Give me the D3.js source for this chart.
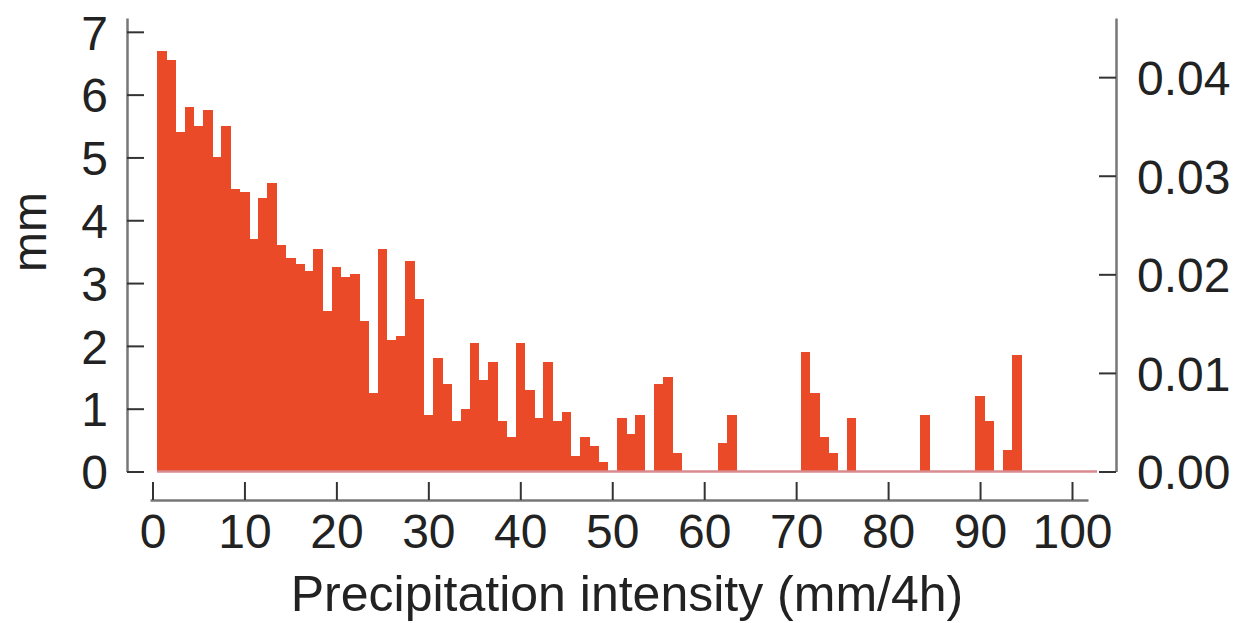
<!DOCTYPE html>
<html>
<head>
<meta charset="utf-8">
<script src="https://cdn.jsdelivr.net/npm/d3@7"></script>
<style>
  html, body { margin: 0; padding: 0; background: #ffffff; }
  svg { display: block; }
  text { font-family: "Liberation Sans", Arial, Helvetica, sans-serif; fill: #222; }
</style>
</head>
<body>
<svg id="chart" width="1234" height="623"></svg>
<script>
// Histogram bins: centre of each 1 mm/4h class
const binCenters = [
  1, 2, 3, 4, 5, 6, 7, 8, 9, 10, 11, 12, 13, 14, 15, 16, 17, 18, 19, 20,
  21, 22, 23, 24, 25, 26, 27, 28, 29, 30, 31, 32, 33, 34, 35, 36, 37, 38, 39, 40,
  41, 42, 43, 44, 45, 46, 47, 48, 49, 50, 51, 52, 53, 54, 55, 56, 57, 58, 59, 60,
  61, 62, 63, 64, 65, 66, 67, 68, 69, 70, 71, 72, 73, 74, 75, 76, 77, 78, 79, 80,
  81, 82, 83, 84, 85, 86, 87, 88, 89, 90, 91, 92, 93, 94
];

// Precipitation amount per class (mm)
const depthMm = [
  6.7, 6.55, 5.4, 5.8, 5.5, 5.75, 5.0, 5.5, 4.5, 4.45,
  3.7, 4.35, 4.6, 3.6, 3.4, 3.3, 3.2, 3.55, 2.55, 3.25,
  3.1, 3.15, 2.4, 1.25, 3.55, 2.1, 2.15, 3.35, 2.75, 0.9,
  1.8, 1.4, 0.8, 1.0, 2.05, 1.45, 1.75, 0.8, 0.55, 2.05,
  1.3, 0.85, 1.75, 0.8, 0.95, 0.25, 0.55, 0.4, 0.15, 0,
  0.85, 0.6, 0.9, 0, 1.4, 1.5, 0.3, 0, 0, 0,
  0, 0.45, 0.9, 0, 0, 0, 0, 0, 0, 0,
  1.9, 1.25, 0.55, 0.3, 0, 0.85, 0, 0, 0, 0,
  0, 0, 0, 0.9, 0, 0, 0, 0, 0, 1.2,
  0.8, 0, 0.35, 1.85
];

// Axis tick values
const xTicks = [0, 10, 20, 30, 40, 50, 60, 70, 80, 90, 100];
const leftTicks = [0, 1, 2, 3, 4, 5, 6, 7];
const rightTicks = [0, 0.01, 0.02, 0.03, 0.04];

const xLabel = "Precipitation intensity (mm/4h)";
const yLabel = "mm";

const svg = d3.select("#chart");

const x = d3.scaleLinear().domain([-0.27, 101.74]).range([150, 1088]);
const yLeft = d3.scaleLinear().domain([0, 7.22]).range([471.5, 18]);
const yRight = d3.scaleLinear().domain([0, 0.046]).range([471.5, 18]);

const bars = binCenters.map((c, i) => ({ c, v: depthMm[i] }));

// Bars (adjacent classes touch, no seams)
svg.append("g")
  .attr("shape-rendering", "crispEdges")
  .selectAll("rect")
  .data(bars.filter(d => d.v > 0))
  .join("rect")
  .attr("x", d => x(d.c - 0.5))
  .attr("width", d => x(d.c + 0.5) - x(d.c - 0.5) + 0.5)
  .attr("y", d => yLeft(d.v))
  .attr("height", d => yLeft(0) - yLeft(d.v))
  .attr("fill", "#ea4a27");

// Zero line along the bar bases
svg.append("line")
  .attr("x1", x(0.5)).attr("x2", 1097)
  .attr("y1", yLeft(0)).attr("y2", yLeft(0))
  .attr("stroke", "#d98a8f")
  .attr("stroke-width", 2.5);

function styleAxis(g) {
  g.select(".domain").attr("stroke", "#777").attr("stroke-width", 2.5);
  g.selectAll(".tick line").attr("stroke", "#333").attr("stroke-width", 2);
  g.selectAll(".tick text")
    .attr("font-size", 48)
    .attr("fill", "#222")
    .attr("font-family", "'Liberation Sans', Arial, Helvetica, sans-serif");
}

// Left axis (mm)
const gLeft = svg.append("g")
  .attr("transform", "translate(127,0)")
  .call(d3.axisLeft(yLeft).tickValues(leftTicks).tickFormat(d3.format("d"))
    .tickSizeInner(-17).tickSizeOuter(0).tickPadding(19));
styleAxis(gLeft);
gLeft.selectAll(".tick text").attr("dy", "0.36em");

// Right axis
const gRight = svg.append("g")
  .attr("transform", "translate(1116,0)")
  .call(d3.axisRight(yRight).tickValues(rightTicks).tickFormat(d3.format(".2f"))
    .tickSizeInner(-17).tickSizeOuter(0).tickPadding(21));
styleAxis(gRight);
gRight.selectAll(".tick text").attr("dy", "0.36em");

// Bottom axis
const gBottom = svg.append("g")
  .attr("transform", "translate(0,500)")
  .call(d3.axisBottom(x).tickValues(xTicks).tickFormat(d3.format("d"))
    .tickSizeInner(-18).tickSizeOuter(0).tickPadding(14));
styleAxis(gBottom);
gBottom.selectAll(".tick text").attr("dy", "0.71em");

// Axis titles
svg.append("text")
  .attr("x", 627)
  .attr("y", 611)
  .attr("text-anchor", "middle")
  .attr("font-size", 50)
  .text(xLabel);

svg.append("text")
  .attr("transform", "translate(46,232) rotate(-90)")
  .attr("text-anchor", "middle")
  .attr("font-size", 48)
  .text(yLabel);
</script>
</body>
</html>
